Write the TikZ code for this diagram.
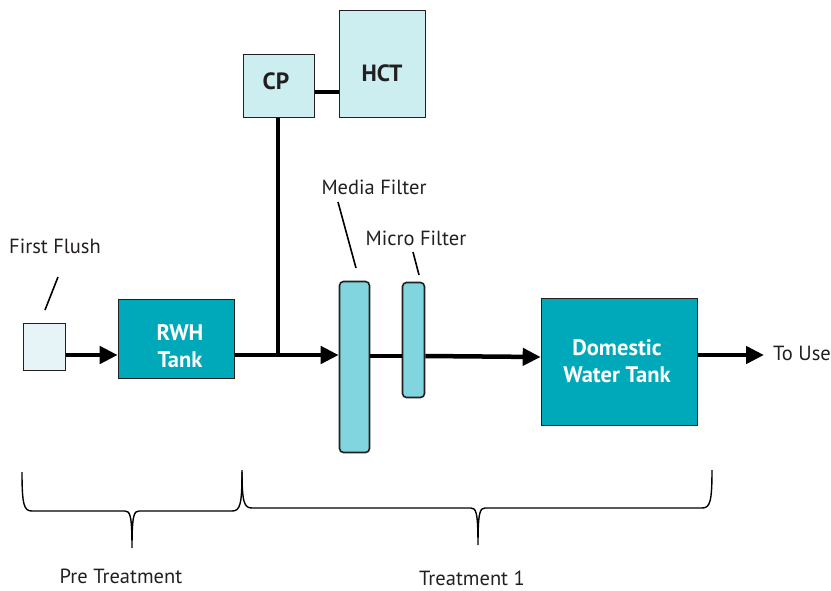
\documentclass[tikz,border=0pt]{standalone}
\usepackage{fontspec}
\setmainfont{PT Sans}
\usetikzlibrary{arrows.meta}
\definecolor{teal1}{HTML}{00A9B9}
\definecolor{lightc}{HTML}{CDEEF1}
\definecolor{filt}{HTML}{80D5DE}
\definecolor{ffc}{HTML}{E6F4F8}
\definecolor{txt}{HTML}{231F20}
\tikzset{
  box/.style={draw=txt, line width=1.6pt, inner sep=0pt, align=center},
  tank/.style={box, fill=teal1},
  tanktext/.style={text=white, inner sep=0pt, align=center, font=\bfseries\fontsize{22.5}{27}\selectfont},
  lbox/.style={box, fill=lightc},
  lboxtext/.style={text=txt, inner sep=0pt, font=\bfseries\fontsize{23.5}{26}\selectfont},
  filter/.style={box, fill=filt, rounded corners=4pt},
  flow/.style={line width=4.5pt, draw=black},
  arr/.style={flow, -{Triangle[length=18pt,width=17pt]}},
  lbl/.style={text=txt, font=\fontsize{20.5}{24}\selectfont, inner sep=0pt},
  lead/.style={line width=1.6pt, draw=black},
  brace/.style={line width=1.4pt, draw=black}
}
\begin{document}
\begin{tikzpicture}[x=1pt,y=-1pt]
\useasboundingbox (0,0) rectangle (831,590);
% boxes
\node[box, fill=ffc, minimum width=42pt, minimum height=47pt] (ff) at (44.5,347) {};
\node[tank, minimum width=116pt, minimum height=79pt] (rwh) at (176.5,339) {};
\node[tanktext] (rwht) at (180,346) {RWH\\Tank};
\node[lbox, minimum width=71pt, minimum height=63pt] (cp) at (279,86) {};
\node[lboxtext] (cpt) at (276,81) {CP};
\node[lbox, minimum width=86pt, minimum height=107pt] (hct) at (382.5,64) {};
\node[lboxtext] (hctt) at (382,73) {HCT};
\node[filter, minimum width=30pt, minimum height=171pt] (mf) at (354.5,367) {};
\node[filter, minimum width=22pt, minimum height=115pt] (uf) at (413.5,340) {};
\node[tank, minimum width=156pt, minimum height=127pt] (dw) at (619.5,362) {};
\node[tanktext] (dwt) at (617,361) {Domestic\\Water Tank};
% labels
\node[lbl] (ffl) at (55,246) {First Flush};
\node[lbl] (mfl) at (374,187) {Media Filter};
\node[lbl] (ufl) at (416,238) {Micro Filter};
\node[lbl, anchor=west] (use) at (773,353) {To Use};
\node[lbl] (pre) at (121,576) {Pre Treatment};
\node[lbl] (t1) at (472,578) {Treatment 1};
% leaders
\draw[lead] (58,277) -- (45,310);
\draw[lead] (338,202) -- (356,268);
\draw[lead] (413,252) -- (419,275);
% flow
\coordinate (j) at (278,355);
\coordinate (useend) at ([xshift=-9pt]use.west |- 0,355);
\draw[arr] (ff.east |- 0,355) -- (rwh.west |- 0,355);
\draw[flow] (rwh.east |- 0,355) -- (j);
\draw[arr] (j) -- (mf.west |- 0,355);
\draw[flow] (j) -- (j |- cp.south);
\draw[flow] (cp.east |- 0,92) -- (hct.west |- 0,92);
\draw[flow] (mf.east |- 0,356) -- (uf.west |- 0,356);
\draw[arr] (uf.east |- 0,356) -- (dw.west |- 0,357);
\draw[arr] (dw.east |- 0,355) -- (useend);
% braces
\draw[brace] (22,472) .. controls (22,505) and (24,511) .. (32,511) -- (125,511) .. controls (130,511) and (132,515) .. (132,548) .. controls (132,515) and (134,511) .. (139,511) -- (232,511) .. controls (240,511) and (242,505) .. (242,472);
\draw[brace] (242,470) .. controls (242,502) and (244,508) .. (252,508) -- (471,508) .. controls (476,508) and (478,512) .. (478,545) .. controls (478,512) and (480,508) .. (485,508) -- (702,508) .. controls (710,508) and (712,502) .. (712,470);
\end{tikzpicture}
\end{document}
